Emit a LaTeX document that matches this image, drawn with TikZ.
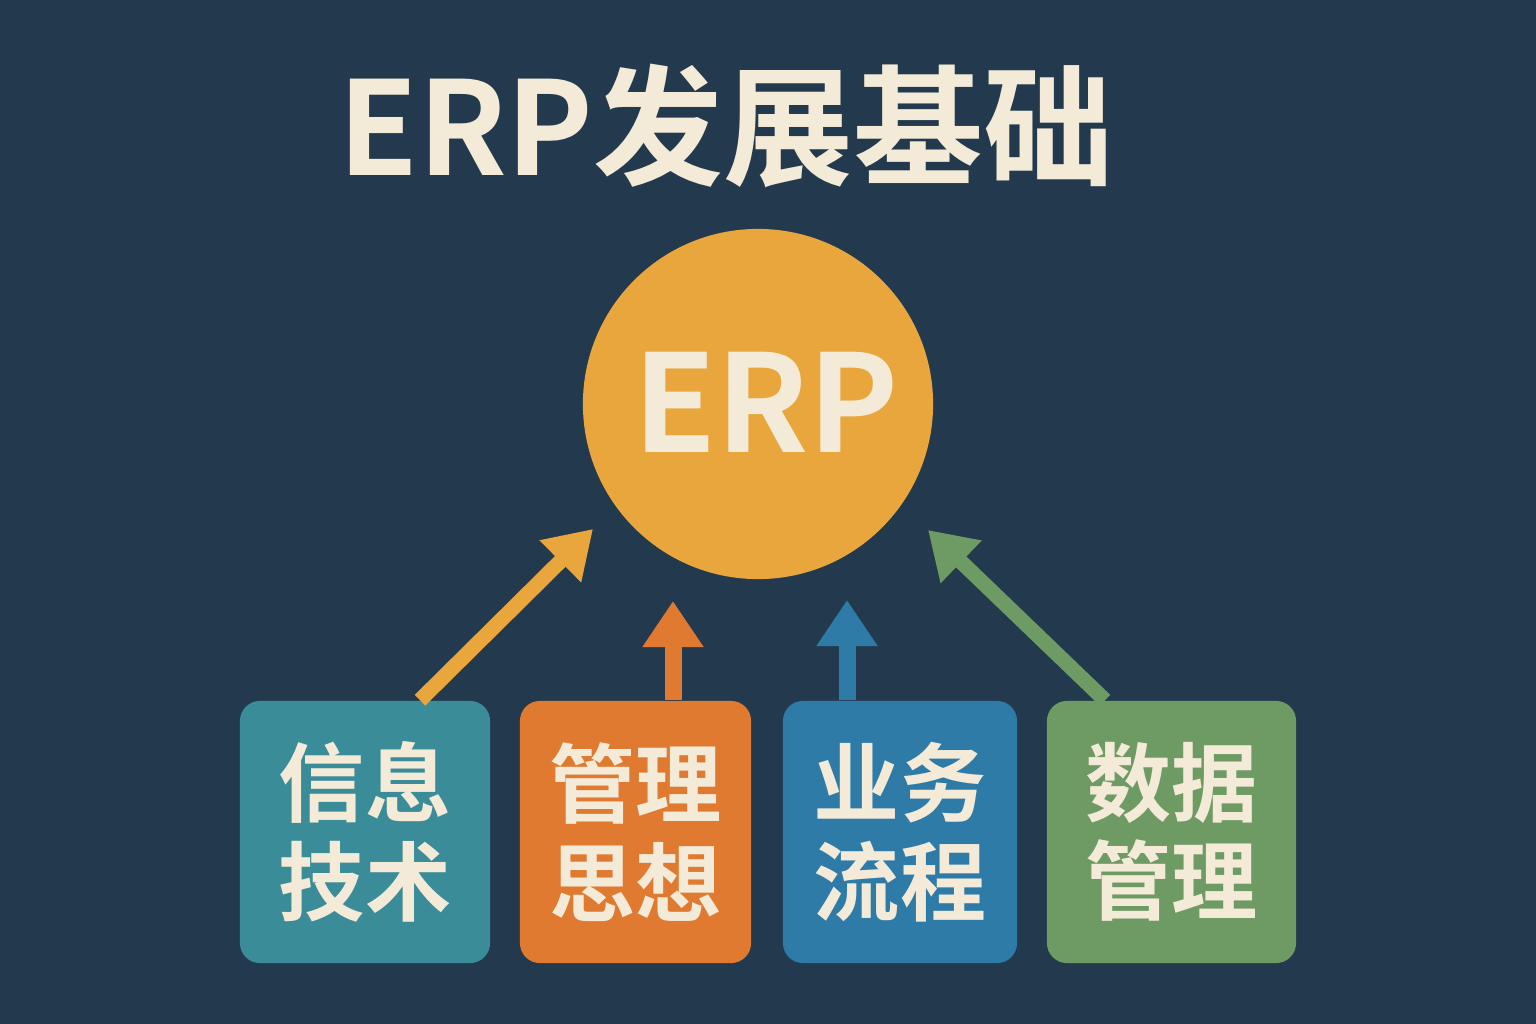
\documentclass[tikz,border=0pt]{standalone}
\usepackage{fontspec}
\newfontfamily\cjkb{Noto Sans CJK SC Bold}
\usetikzlibrary{arrows.meta}
\definecolor{bg}{HTML}{233A4E}
\definecolor{cream}{HTML}{F3EAD8}
\definecolor{gold}{HTML}{E8A63C}
\definecolor{teal1}{HTML}{3A8C98}
\definecolor{orng}{HTML}{E07A30}
\definecolor{blu}{HTML}{2E7BA8}
\definecolor{grn}{HTML}{6E9A64}
\tikzset{
  card/.style={rounded corners=0.2cm, minimum width=2.4cm, minimum height=2.62cm, inner sep=0pt,
    text=cream, align=center, font=\cjkb\fontsize{24.5}{28}\selectfont},
  arr/.style={line width=0.15cm, -{Triangle[length=0.46cm,width=0.56cm]}},
  varr/.style={line width=0.17cm, -{Triangle[length=0.46cm,width=0.58cm]}}
}
\begin{document}
\begin{tikzpicture}[x=0.01cm,y=-0.01cm]
\fill[bg] (0,0) rectangle (1536,1024);
\useasboundingbox (0,0) rectangle (1536,1024);
\node[text=cream, font=\cjkb\fontsize{37}{40}\selectfont] (title) at (726,126) {ERP发展基础};
\node[circle, fill=gold, minimum size=3.5cm, inner sep=0pt] (erp) at (758,404) {};
\node[text=cream, font=\cjkb\fontsize{38.5}{44}\selectfont] (erplbl) at (766,402) {ERP};
\node[card, fill=teal1, minimum width=2.5cm] (b1) at (365,832) {信息\\技术};
\node[card, fill=orng, minimum width=2.31cm] (b2) at (635.5,832) {管理\\思想};
\node[card, fill=blu, minimum width=2.34cm] (b3) at (900,832) {业务\\流程};
\node[card, fill=grn, minimum width=2.49cm] (b4) at (1171.5,832) {数据\\管理};
\coordinate (t1) at (593,529);
\coordinate (t2) at (673,601);
\coordinate (t3) at (847,600);
\coordinate (t4) at (928,530);
\draw[arr, gold] (b1.north -| 420,0) -- (t1);
\draw[varr, orng] (b2.north -| 673,0) -- (t2);
\draw[varr, blu] (b3.north -| 847,0) -- (t3);
\draw[arr, grn] (b4.north -| 1105,0) -- (t4);
\end{tikzpicture}
\end{document}
